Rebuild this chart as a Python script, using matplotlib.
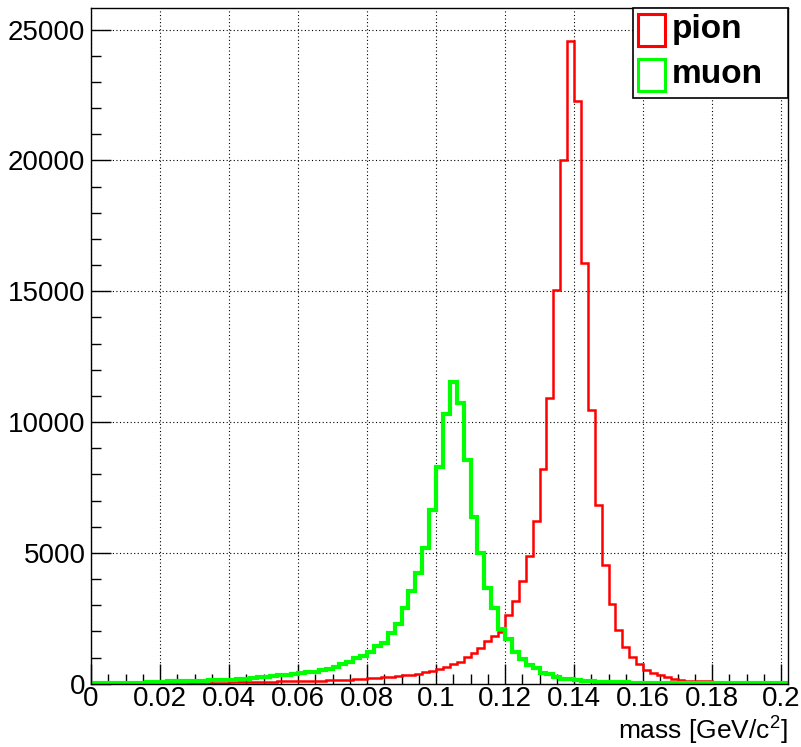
import numpy as np
import matplotlib
matplotlib.use("Agg")
import matplotlib.pyplot as plt
from matplotlib.patches import Rectangle
from matplotlib.ticker import MultipleLocator

plt.rcParams['font.family'] = ['Liberation Sans', 'DejaVu Sans']
plt.rcParams['mathtext.fontset'] = 'custom'
plt.rcParams['mathtext.rm'] = 'Liberation Sans'
plt.rcParams['mathtext.it'] = 'Liberation Sans:italic'

# binning: 101 bins of 2 MeV starting at 0
bin_width = 0.002
n_bins = 101

# pion mass histogram (counts per bin)
pion = [
    0, 0, 0, 0, 0, 0, 0, 0, 0, 0,
    0, 0, 0, 0, 20, 25, 30, 35, 40, 45,
    50, 60, 62, 65, 68, 70, 75, 90, 95, 100,
    105, 110, 115, 120, 130, 145, 150, 160, 170, 180,
    200, 215, 245, 260, 290, 330, 350, 370, 430, 500,
    550, 650, 750, 840, 1030, 1160, 1350, 1630, 1820, 1990,
    2620, 3170, 3930, 4870, 6210, 8220, 10930, 15050, 20030, 24580,
    22290, 16085, 10450, 6820, 4530, 3030, 2050, 1410, 1010, 740,
    520, 420, 320, 245, 180, 140, 120, 110, 100, 90,
    25, 20, 20, 15, 15, 10, 10, 10, 5, 5,
    0,
]

# muon mass histogram (counts per bin)
muon = [
    10, 10, 12, 12, 15, 15, 18, 20, 70, 75,
    80, 85, 85, 90, 110, 115, 120, 125, 130, 135,
    140, 165, 190, 215, 240, 265, 290, 315, 340, 370,
    400, 430, 465, 510, 560, 650, 750, 840, 990, 1060,
    1220, 1440, 1565, 1950, 2300, 2900, 3540, 4240, 5190, 6630,
    8280, 10320, 11530, 10730, 8565, 6375, 4980, 3665, 2880, 2075,
    1695, 1200, 945, 715, 590, 420, 360, 270, 190, 170,
    140, 110, 90, 75, 70, 65, 60, 55, 30, 30,
    30, 30, 30, 30, 30, 30, 30, 30, 30, 30,
    30, 30, 30, 30, 30, 30, 30, 30, 30, 30,
    30,
]

x_ticks = [0, 0.02, 0.04, 0.06, 0.08, 0.1, 0.12, 0.14, 0.16, 0.18, 0.2]
x_tick_labels = ["0", "0.02", "0.04", "0.06", "0.08", "0.1", "0.12", "0.14", "0.16", "0.18", "0.2"]
y_ticks = [0, 5000, 10000, 15000, 20000, 25000]
y_tick_labels = ["0", "5000", "10000", "15000", "20000", "25000"]

legend_labels = ["pion", "muon"]
colors = ["#ff0000", "#00ff00"]

edges = np.arange(n_bins + 1) * bin_width

fig = plt.figure(figsize=(8.01, 7.47), dpi=100)
ax = fig.add_axes([91 / 801, 1 - 683.7 / 747, 697 / 801, 675.2 / 747])

ax.stairs(pion, edges, baseline=0, fill=False, color=colors[0], lw=1.8, zorder=3)
ax.stairs(muon, edges, baseline=0, fill=False, color=colors[1], lw=3.0, zorder=4)

ax.set_xlim(0, edges[-1])
ax.set_ylim(0, 1.05 * max(pion))

ax.set_xticks(x_ticks)
ax.set_xticklabels(x_tick_labels)
ax.set_yticks(y_ticks)
ax.set_yticklabels(y_tick_labels)
ax.xaxis.set_minor_locator(MultipleLocator(0.005))
ax.yaxis.set_minor_locator(MultipleLocator(1000))

ax.tick_params(which='major', direction='in', length=14.5, width=1, color='black',
               labelsize=20, top=False, right=False)
ax.tick_params(which='minor', direction='in', length=7.5, width=1, color='black',
               top=False, right=False)
ax.tick_params(axis='x', which='major', pad=1.5)
ax.tick_params(axis='y', which='major', pad=4)

ax.grid(True, which='major', color='black', linestyle=(0, (1, 2.2)), lw=0.8, zorder=1)
ax.set_axisbelow(False)
for sp in ax.spines.values():
    sp.set_color('black')
    sp.set_linewidth(1.0)
    sp.set_zorder(6)

ax.text(1.0, (683.7 - 739.5) / 675.2, r"mass [GeV/c$^{2}$]", transform=ax.transAxes,
        ha='right', va='baseline', fontsize=19)

# legend box in the top-right corner of the frame
x_box0 = (633 - 91) / 697
y_box0 = (683.7 - 98) / 675.2
ax.add_patch(Rectangle((x_box0, y_box0), 1 - x_box0, 1 - y_box0, transform=ax.transAxes,
                       facecolor='white', edgecolor='black', lw=1.2, zorder=7, clip_on=False))
sq_x0 = (637.5 - 91) / 697
sq_w = (665 - 637.5) / 697
sq_y = [(683.7 - 45.7) / 675.2, (683.7 - 90.7) / 675.2]
sq_h = 31.5 / 675.2
text_y = [(683.7 - 38.5) / 675.2, (683.7 - 83.3) / 675.2]
for lab, col, sy, ty in zip(legend_labels, colors, sq_y, text_y):
    ax.add_patch(Rectangle((sq_x0, sy), sq_w, sq_h, transform=ax.transAxes,
                           facecolor='white', edgecolor=col, lw=2.2, zorder=8, clip_on=False))
    ax.text((672 - 91) / 697, ty, lab, transform=ax.transAxes, ha='left', va='baseline',
            fontsize=24, fontweight='bold', color='black', zorder=9)

fig.savefig("out.png", dpi=100)
